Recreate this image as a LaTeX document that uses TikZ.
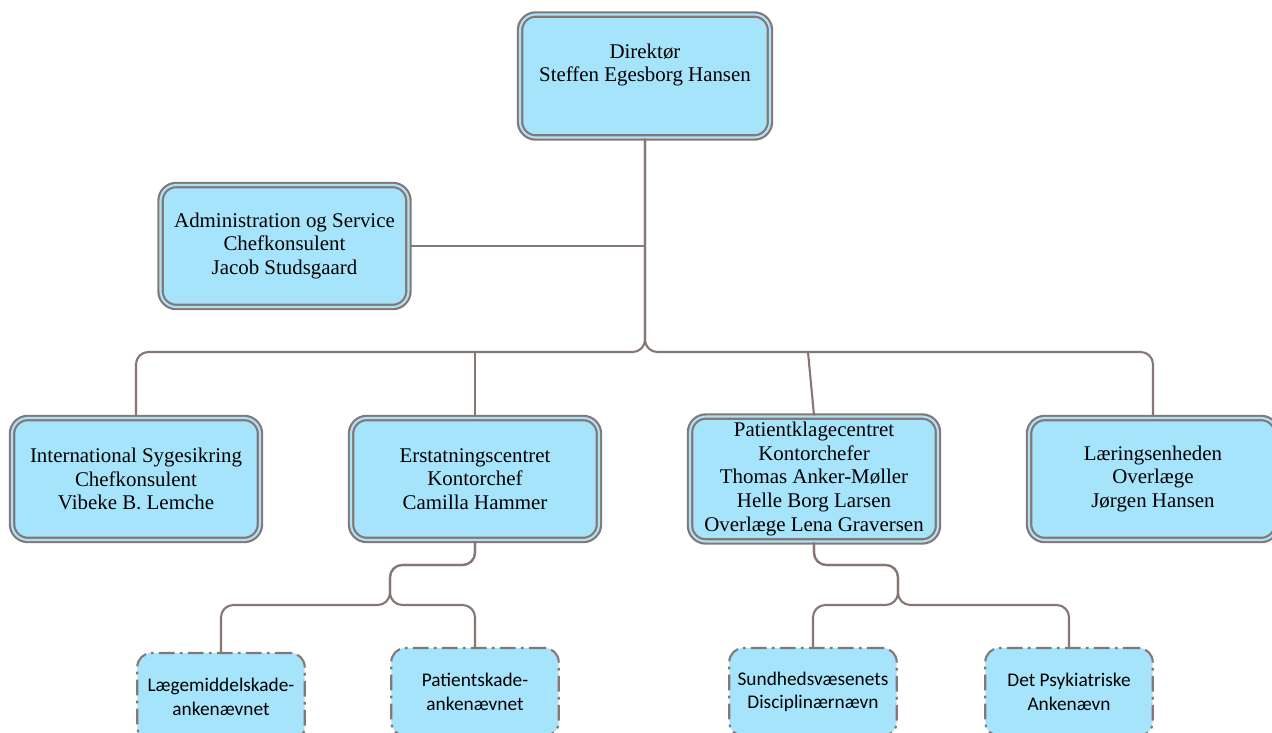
\documentclass[tikz,border=0pt]{standalone}
\usepackage{fontspec}
\setmainfont{Liberation Serif}
\newfontfamily\calibri{Carlito}
\usetikzlibrary{positioning}
\definecolor{boxblue}{HTML}{A6E4FC}
\definecolor{frame}{HTML}{887672}
\tikzset{
  unit/.style={draw=frame, line width=1.25pt, double=boxblue, double distance=1.2pt,
    fill=boxblue, rounded corners=9pt, minimum width=4.96cm, minimum height=2.44cm,
    align=center, font=\fontsize{11.9}{13.4}\selectfont},
  board/.style={draw=frame, line width=1.2pt, dash pattern=on 9pt off 3pt on 1.5pt off 3pt,
    fill=boxblue, rounded corners=8pt, minimum width=3.35cm, minimum height=1.76cm,
    align=center, font=\calibri\fontsize{11}{13.4}\selectfont},
  link/.style={draw=frame, line width=1.2pt, rounded corners=7pt}
}
\begin{document}
\begin{tikzpicture}[x=0.02cm,y=-0.02cm]
\useasboundingbox (0,0) rectangle (1272,733);
\clip (0,0) rectangle (1272,733);

\node[unit, minimum width=5cm, minimum height=2.46cm] (dir) at (645,76) {};
\node[align=center, font=\fontsize{11.9}{13.4}\selectfont] (dirname) at (645,65) {Direktør\\Steffen Egesborg Hansen};
\node[unit] (admin) at (284.5,246) {Administration og Service\\Chefkonsulent\\Jacob Studsgaard};

\node[unit] (intl) at (136,479) {International Sygesikring\\Chefkonsulent\\Vibeke B. Lemche};
\node[unit] (erst) at (475,479) {Erstatningscentret\\Kontorchef\\Camilla Hammer};
\node[unit] (pkc)  at (814,479) {Patientklagecentret\\Kontorchefer\\Thomas Anker-Møller\\Helle Borg Larsen\\Overlæge Lena Graversen};
\node[unit] (laer) at (1153,479) {Læringsenheden\\Overlæge\\Jørgen Hansen};

\node[board] (laege) at (221,697) {Lægemiddelskade-\\ankenævnet};
\node[board] (patsk) at (475,692) {Patientskade-\\ankenævnet};
\node[board] (sund)  at (813,692) {Sundhedsvæsenets\\Disciplinærnævn};
\node[board] (psyk)  at (1069,692) {Det Psykiatriske\\Ankenævn};

\coordinate (split) at (645,352);
\coordinate (ptop) at (808,352);
\coordinate (ebend) at (390,565);
\coordinate (esplit) at (390,605);
\coordinate (pbend) at (898,565);
\coordinate (psplit) at (898,605);

\draw[link] (dir.south) -- (split) -| (intl.north);
\draw[link] (dir.south) -- (split) -| (laer.north);
\draw[link] (admin.east) -- (admin.east -| dir.south);
\draw[link] (erst.north |- split) -- (erst.north);
\draw[link] (ptop) -- (pkc.north);

\draw[link] (erst.south) |- (ebend) -- (esplit) -| (laege.north);
\draw[link] (erst.south) |- (ebend) -- (esplit) -| (patsk.north);
\draw[link] (pkc.south) |- (pbend) -- (psplit) -| (sund.north);
\draw[link] (pkc.south) |- (pbend) -- (psplit) -| (psyk.north);
\end{tikzpicture}
\end{document}
